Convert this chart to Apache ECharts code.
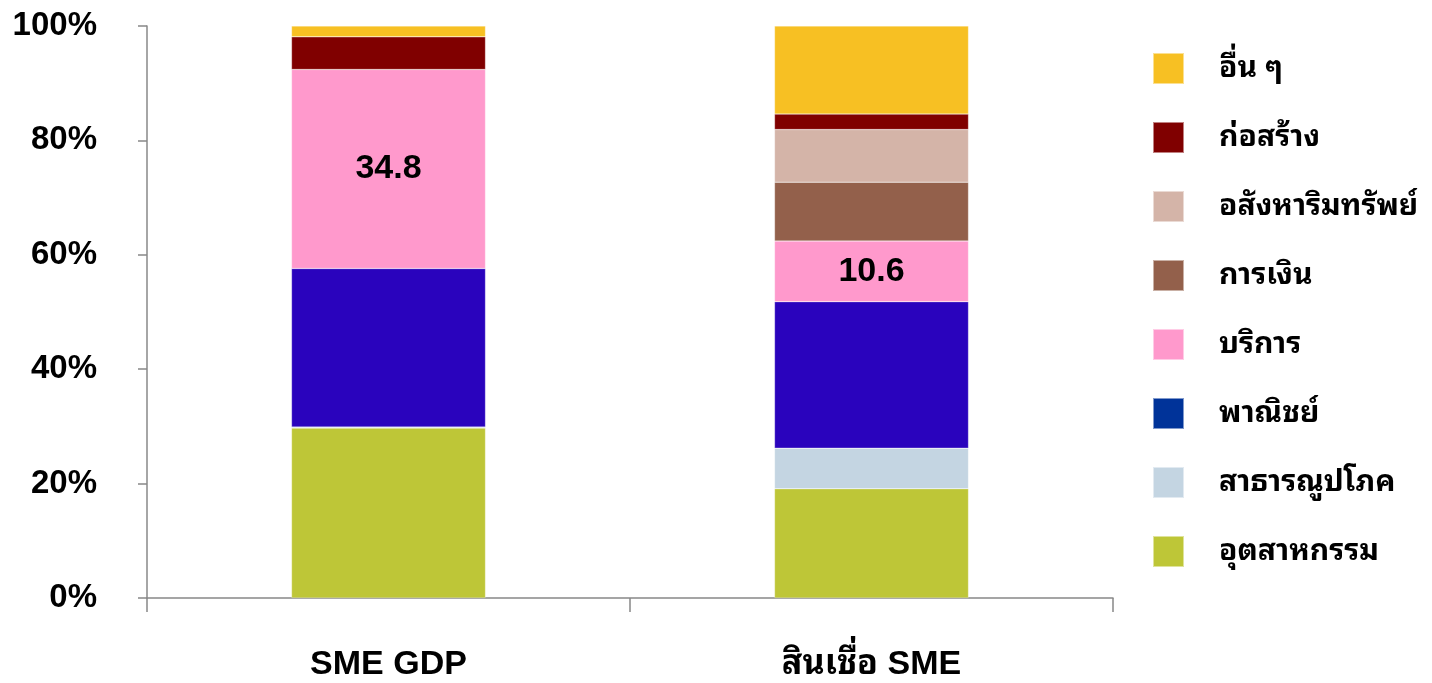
<!DOCTYPE html>
<html>
<head>
<meta charset="utf-8">
<script src="https://cdn.jsdelivr.net/npm/echarts@6/dist/echarts.min.js"></script>
<style>
  html, body { margin: 0; padding: 0; background: #fff; }
  #chart { width: 1432px; height: 683px; }
</style>
</head>
<body>
<div id="chart"></div>
<script>
// Share of each sector (%) — SME GDP vs SME credit
const categories = ['SME GDP', 'สินเชื่อ SME'];

const industry     = [29.7, 19.1];  // อุตสาหกรรม
const utilities    = [0.2, 7.1];    // สาธารณูปโภค
const commerce     = [27.7, 25.6];  // พาณิชย์
const services     = [34.8, 10.6];  // บริการ
const finance      = [0, 10.3];     // การเงิน
const realEstate   = [0, 9.2];      // อสังหาริมทรัพย์
const construction = [5.7, 2.7];    // ก่อสร้าง
const others       = [1.9, 15.4];   // อื่น ๆ

const yTicks = [0, 20, 40, 60, 80, 100];

const seriesDefs = [
  { name: 'อุตสาหกรรม', data: industry, color: '#bec637' },
  { name: 'สาธารณูปโภค', data: utilities, color: '#c4d5e2' },
  { name: 'พาณิชย์', data: commerce, color: '#2a03bd', legendColor: '#003399' },
  { name: 'บริการ', data: services, color: '#ff99cc', labeled: true },
  { name: 'การเงิน', data: finance, color: '#93604b' },
  { name: 'อสังหาริมทรัพย์', data: realEstate, color: '#d4b4a8' },
  { name: 'ก่อสร้าง', data: construction, color: '#800000' },
  { name: 'อื่น ๆ', data: others, color: '#f7c023' }
];

const thaiFont = '"Noto Sans Thai Looped", "Noto Serif Thai", Loma, Garuda, Tahoma, "Noto Sans Thai", sans-serif';
const latinFont = '"Liberation Sans", Arial, sans-serif';

const chart = echarts.init(document.getElementById('chart'), null, { renderer: 'canvas' });

chart.setOption({
  animation: false,
  backgroundColor: '#ffffff',
  grid: { left: 147, right: 319, top: 26, bottom: 85, containLabel: false },
  legend: {
    orient: 'vertical',
    left: 1152,
    top: 52,
    padding: 0,
    itemWidth: 31,
    itemHeight: 31,
    itemGap: 36,
    icon: 'rect',
    selectedMode: false,
    textStyle: {
      fontFamily: thaiFont,
      fontSize: 30,
      lineHeight: 31,
      fontWeight: 'bold',
      color: '#000',
      padding: [0, 0, 0, 30]
    },
    data: seriesDefs.slice().reverse().map(s => ({
      name: s.name,
      itemStyle: { color: s.legendColor || s.color }
    }))
  },
  xAxis: {
    type: 'category',
    data: categories,
    boundaryGap: true,
    axisLine: { lineStyle: { color: '#888', width: 1.5 } },
    axisTick: { show: true, length: 14, lineStyle: { color: '#888', width: 1.5 } },
    axisLabel: {
      margin: 50,
      fontFamily: latinFont + ', ' + thaiFont,
      fontSize: 34,
      fontWeight: 'bold',
      color: '#000'
    }
  },
  yAxis: {
    type: 'value',
    min: 0,
    max: 100,
    interval: 20,
    axisLine: { show: true, lineStyle: { color: '#888', width: 1.5 } },
    axisTick: { show: true, length: 9, lineStyle: { color: '#888', width: 1.5 } },
    splitLine: { show: false },
    axisLabel: {
      margin: 50,
      fontFamily: latinFont,
      fontSize: 33,
      fontWeight: 'bold',
      color: '#000',
      formatter: v => (yTicks.includes(v) ? v + '%' : '')
    }
  },
  series: seriesDefs.map(s => ({
    name: s.name,
    type: 'bar',
    stack: 'total',
    barWidth: 194,
    data: s.data,
    itemStyle: { color: s.color, borderColor: 'rgba(255,255,255,0.5)', borderWidth: 0.5 },
    label: {
      show: !!s.labeled,
      position: 'inside',
      fontFamily: latinFont,
      fontSize: 34,
      fontWeight: 'bold',
      color: '#000',
      formatter: p => p.value.toFixed(1)
    }
  }))
});
</script>
</body>
</html>
